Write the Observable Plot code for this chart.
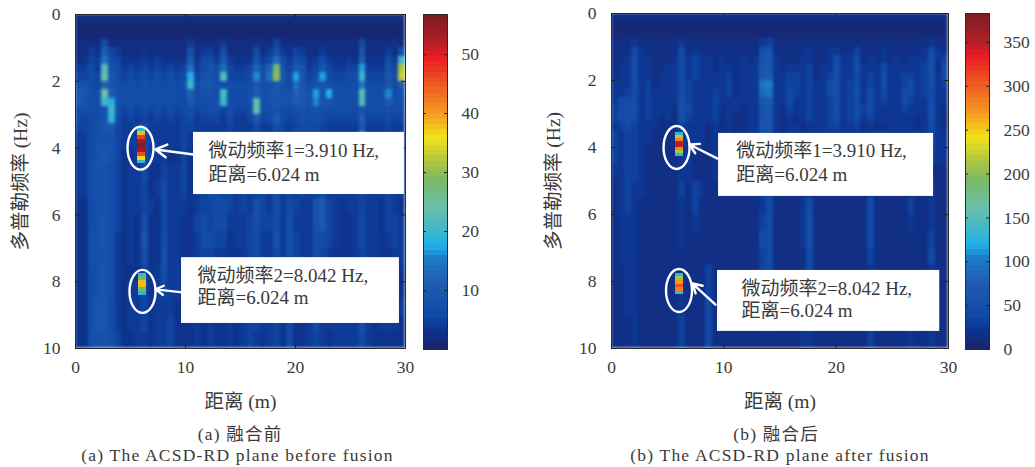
<!DOCTYPE html>
<html lang="zh"><head><meta charset="utf-8">
<script src="https://cdn.jsdelivr.net/npm/d3@7"></script>
<script src="https://cdn.jsdelivr.net/npm/@observablehq/plot@0.6"></script>
<style>
html,body{margin:0;padding:0;background:#fff}
#fig{position:relative;width:1035px;height:467px;overflow:hidden;font-family:"Liberation Serif","Noto Sans CJK SC",serif;color:#3a3a3a}
#fig svg{position:absolute}
.cap{position:absolute;transform:translate(-50%,-50%);white-space:nowrap;font-size:17.5px;letter-spacing:1.2px}
</style></head><body><div id="fig"></div>
<script>
// Row boundaries of the background grid (Hz); 50 range columns of 0.6 m
const freqEdges = [0,.25,.5,.75,1,1.25,1.5,1.75,2,2.25,2.5,2.75,3,3.25,3.5,4,4.5,5,5.5,6,6.5,7,7.5,8,8.5,9,9.5,10];
const rangeStep = 0.6;
// Base-36 digits, one per range column. Panel (a): value = digit
const planeBefore = [
"2222222222 2222222222 2222222222 2222222222 2222222222",
"1111111111 1111111111 1111111111 1111111111 1111111111",
"1111111111 1111111111 1111111111 1111111111 1111111111",
"2222622222 2222222422 2242222322 5222222222 2226222232",
"2243b54222 3222222824 4272222624 8435422422 2229222427",
"2354e65333 4343333b36 64a4333846 d647634743 343c33374k",
"4464m86454 5454545e46 86d5445c6c s85a845954 455h44485w",
"5575o96565 6565756i58 86m5556g7e u96h956h65 566k55596x",
"8865c97676 7676767k69 9767667a78 a86e968976 766f66696a",
"a976ob7676 7676766c68 86l6667b78 988ca8h8i7 777n777g78",
"a876ki7676 7676766a67 77k6667n78 988ba8g897 777m777b77",
"77668k7565 6565656756 6657556n67 8767878766 6668666766",
"65678j6454 5454545645 5546445a56 b656767655 555c555655",
"55679a5445 6444445544 4445444644 7545666544 444a444544",
"4468885444 6444445444 4444444544 6445555444 444h444444",
"4468985334 7444335344 4444445444 5444554444 4446444444",
"4478875344 6335445345 5544454444 5444544544 4446444544",
"4478875344 5346445345 6655454554 6454544644 4445444544",
"3368875344 5436444345 5665454754 7465449a54 3445443543",
"3368975343 7336443356 5664445755 7474448a54 3346443554",
"3378974343 9337443346 6553445644 8475447654 3346443454",
"3378874343 7338443345 5443345644 6475447543 3345443344",
"3368974333 5347443344 4333344533 5364436433 3345433343",
"3368974344 5345443344 4333344533 5354436433 3346433343",
"3379964344 5344433343 4333345533 5353335433 4447433444",
"3379964344 5344533343 4334345544 5363346444 4448434443",
"3378875334 4344533343 4334345434 5363345434 4446433333"];
// Panel (b): value = digit x 8
const planeAfter = [
"2222222222 2222222222 2222222222 2222222222 2222222222",
"1111111111 1111111111 1111111111 1111111111 1111111111",
"1111111111 1111111111 1111111111 1111111111 1111111111",
"2223222222 3222222222 2234222222 2222222222 2222222322",
"2225322222 5232222222 2267222223 2233224222 3222223532",
"2236332223 5343323223 2378322233 2235335232 3232333634",
"2336332233 5343323323 3388323334 2336336333 5333334625",
"2336332333 5343333423 3389334434 2346335343 6334434635",
"3335342333 5433333423 33cd334434 3356345343 6334534634",
"3345343333 5433343423 33bc335434 3356346353 5335534533",
"3556343333 6433343333 3389335334 3346345353 4335433533",
"4566343332 6533342332 3378324334 3346345453 3334333632",
"4565343232 6433342322 3378323234 3345345343 3333323632",
"3454333222 4333232322 3377323323 3344334232 2333323532",
"4344332222 4333232322 3367323323 3333333333 3333333533",
"4344322222 3322232322 2256222222 2333333333 3333333433",
"3344322222 3322232222 2245222222 2222222222 2222222222",
"2343322222 4243222322 2256223222 2222222232 2222222322",
"2343222222 3242222222 2235222235 2222222252 2222422322",
"2333222222 3232222222 2245222236 2222222252 2222322322",
"2333222222 3222222222 2255222236 2222222252 2222222422",
"2333222222 2222222222 2245222225 2222222242 2222222522",
"2233222222 2222422222 2245222225 2222222232 2222222322",
"2233222222 3222422222 2233222223 2222222222 2222222222",
"2233222222 3222522222 2233222233 2222222232 2222222222",
"2223222222 4222522222 2233222233 2222222232 2222322222",
"2223222222 4222522222 2222222233 2222222242 2222322322"];
// Micro-motion peaks (finer frequency bins)
const peakBefore1Edges = [3.375,3.5,3.625,3.75,3.875,4,4.125,4.25,4.375,4.47];
const peakBefore1Values = [20,38,47,54,56,54,46,36,20];
const peakBefore2Edges = [7.74,7.85,7.96,8.07,8.18,8.3,8.41];
const peakBefore2Values = [20,28,38,38,28,19];
const peakAfter1Edges = [3.56,3.65,3.74,3.83,3.92,4.01,4.1,4.19,4.28];
const peakAfter1Values = [130,220,280,345,350,280,215,130];
const peakAfter2Edges = [7.75,7.86,7.97,8.08,8.19,8.3,8.4];
const peakAfter2Values = [130,210,270,305,285,130];
const xTicks = [0,10,20,30];
const yTicks = [0,2,4,6,8,10];
const barTicksBefore = [10,20,30,40,50];
const barTicksAfter = [0,50,100,150,200,250,300,350];
const maxBefore = 56.8, maxAfter = 383;
const rampStops = [0,.057,.1,.2,.275,.31,.355,.425,.5,.57,.63,.71,.79,.87,.92,1];
const rampColors = ["#1a2368","#0c3490","#114aa8","#1f5cb0","#1c80c8","#20b0ea","#40b8c8","#6cc0a8","#78b868","#b8c83a","#f2e31a","#f59320","#ee5a20","#ec1c24","#b01f28","#7a1d22"];
const FONT = '"Liberation Serif","Noto Sans CJK SC",serif', INK = "#3a3a3a";

const colorOf = max => ({type:"linear", domain:rampStops.map(s=>s*max), range:rampColors, clamp:true});
function gridCells(rows, unit){
  const out=[];
  rows.forEach((r,i)=>{ r.replace(/ /g,"").split("").forEach((c,k)=>{
    out.push({x1:k*rangeStep,x2:(k+1)*rangeStep,y1:freqEdges[i],y2:freqEdges[i+1],v:parseInt(c,36)*unit});
  });});
  return out;
}
const peakCells = (edges,values,x1,x2)=>values.map((v,i)=>({x1,x2,y1:edges[i],y2:edges[i+1],v}));
const ellipse = (rx,ry)=>({draw(ctx){
  const k=.5523;
  ctx.moveTo(rx,0);
  ctx.bezierCurveTo(rx,k*ry,k*rx,ry,0,ry);
  ctx.bezierCurveTo(-k*rx,ry,-rx,k*ry,-rx,0);
  ctx.bezierCurveTo(-rx,-k*ry,-k*rx,-ry,0,-ry);
  ctx.bezierCurveTo(k*rx,-ry,rx,-k*ry,rx,0);
  ctx.closePath();
}});

function heat(o){
  const cellOpts={x1:"x1",x2:"x2",y1:"y1",y2:"y2",fill:"v",shapeRendering:"crispEdges",clip:"frame"};
  const svg = Plot.plot({
    width:420,height:420,marginLeft:o.ml,marginRight:o.mr,marginTop:o.mt,marginBottom:72,
    style:{fontFamily:FONT,fontSize:"17.5px",color:INK,background:"transparent"},
    x:{domain:[0,30]},y:{domain:[10,0]},color:colorOf(o.max),
    marks:[
      Plot.rect(o.cells,cellOpts),
      Plot.rect(o.peaks,cellOpts),
      Plot.frame({stroke:"#2a2a2a",strokeWidth:1}),
      Plot.ruleX(xTicks,{y1:10,y2:9.88,stroke:"#222"}),
      Plot.ruleX(xTicks,{y1:0,y2:.12,stroke:"#222"}),
      Plot.ruleY(yTicks,{x1:0,x2:.36,stroke:"#222"}),
      Plot.ruleY(yTicks,{x1:30,x2:29.64,stroke:"#222"}),
      Plot.axisX(xTicks,{anchor:"bottom",tickSize:0,tickPadding:12,label:null,fontSize:17.5}),
      Plot.axisY(yTicks,{anchor:"left",tickSize:0,tickPadding:15,label:null,fontSize:17.5}),
      Plot.text(["距离 (m)"],{frameAnchor:"bottom",dy:59,fontSize:19.5,fill:INK}),
      Plot.text(["多普勒频率 (Hz)"],{frameAnchor:"left",textAnchor:"middle",dx:-o.yl,rotate:-90,fontSize:19.5,fill:INK}),
      Plot.rect(o.boxes,{x1:"x1",x2:"x2",y1:"y1",y2:"y2",fill:"white"}),
      Plot.dot(o.rings,{x:"x",y:"y",r:1,symbol:ellipse(13,21.5),stroke:"white",strokeWidth:2.4,fill:"none"}),
      Plot.arrow(o.arrows,{x1:"x1",y1:"y1",x2:"x2",y2:"y2",stroke:"white",strokeWidth:2.4,bend:0,headLength:13}),
      Plot.text(o.notes,{x:"x",y:"y",text:"t",textAnchor:"start",fill:INK,fontSize:19})
    ]
  });
  const blurs=["blur(1.6px)","blur(0.7px)"];
  const rectMarks=[...svg.children].filter(g=>g.querySelector(":scope rect")&&g.getAttribute("aria-label")==="rect");
  rectMarks.slice(0,2).forEach((g,i)=>{g.style.filter=blurs[i];});
  return svg;
}
function bar(o){
  const levels=d3.range(64).map(i=>({y1:i*o.max/64,y2:(i+1)*o.max/64,v:(i+.5)*o.max/64}));
  return Plot.plot({
    width:70,height:420,marginLeft:0,marginRight:46,marginTop:o.mt,marginBottom:420-349,
    style:{fontFamily:FONT,fontSize:"17.5px",color:INK,background:"transparent"},
    x:{domain:[0,1],axis:null},y:{domain:[0,o.max]},color:colorOf(o.max),
    marks:[
      Plot.rect(levels,{x1:0,x2:1,y1:"y1",y2:"y2",fill:"v",shapeRendering:"crispEdges"}),
      Plot.frame({stroke:"#2a2a2a",strokeWidth:1}),
      Plot.ruleY(o.ticks,{x1:0,x2:.12,stroke:"#222"}),
      Plot.ruleY(o.ticks,{x1:.88,x2:1,stroke:"#222"}),
      Plot.axisY(o.ticks,{anchor:"right",tickSize:0,tickPadding:14,label:null,fontSize:17.5,textAnchor:"start"})
    ]
  });
}
const fig=document.getElementById("fig");
const place=(el,l)=>{el.style.left=l+"px";el.style.top="0px";fig.appendChild(el);};

place(heat({ml:75,mr:15,mt:14,yl:55,max:maxBefore,
  cells:gridCells(planeBefore,1),
  peaks:[...peakCells(peakBefore1Edges,peakBefore1Values,5.64,6.36),...peakCells(peakBefore2Edges,peakBefore2Values,5.75,6.42)],
  boxes:[{x1:10.73,x2:29.9,y1:3.53,y2:5.39},{x1:9.64,x2:29.45,y1:7.28,y2:9.25}],
  rings:[{x:5.91,y:4.0},{x:6.09,y:8.29}],
  arrows:[{x1:10.73,y1:4.19,x2:7.27,y2:4.04},{x1:9.73,y1:8.32,x2:7.27,y2:8.23}],
  notes:[{x:12.09,y:4.07,t:"微动频率1=3.910 Hz,"},{x:12.09,y:4.79,t:"距离=6.024 m"},{x:11.1,y:7.84,t:"微动频率2=8.042 Hz,"},{x:11.1,y:8.5,t:"距离=6.024 m"}]
}),0);
place(bar({mt:14,max:maxBefore,ticks:barTicksBefore}),423);
place(heat({ml:71,mr:12,mt:13,yl:58,max:maxAfter,
  cells:gridCells(planeAfter,8),
  peaks:[...peakCells(peakAfter1Edges,peakAfter1Values,5.7,6.38),...peakCells(peakAfter2Edges,peakAfter2Values,5.7,6.38)],
  boxes:[{x1:9.53,x2:28.67,y1:3.58,y2:5.46},{x1:9.44,x2:29.22,y1:7.67,y2:9.49}],
  rings:[{x:5.79,y:4.0},{x:6.01,y:8.27}],
  arrows:[{x1:9.44,y1:4.33,x2:6.94,y2:3.91},{x1:9.26,y1:8.69,x2:7.21,y2:8.06}],
  notes:[{x:11.1,y:4.11,t:"微动频率1=3.910 Hz,"},{x:11.1,y:4.81,t:"距离=6.024 m"},{x:11.57,y:8.21,t:"微动频率2=8.042 Hz,"},{x:11.57,y:8.89,t:"距离=6.024 m"}]
}),540);
place(bar({mt:13,max:maxAfter,ticks:barTicksAfter}),965);

[["(a) 融合前",240,432],["(a) The ACSD-RD plane before fusion",237.5,455],["(b) 融合后",776,432],["(b) The ACSD-RD plane after fusion",780,455]].forEach(([t,x,y])=>{
  const d=document.createElement("div");d.className="cap";d.textContent=t;d.style.left=x+"px";d.style.top=y+"px";fig.appendChild(d);
});
</script></body></html>
